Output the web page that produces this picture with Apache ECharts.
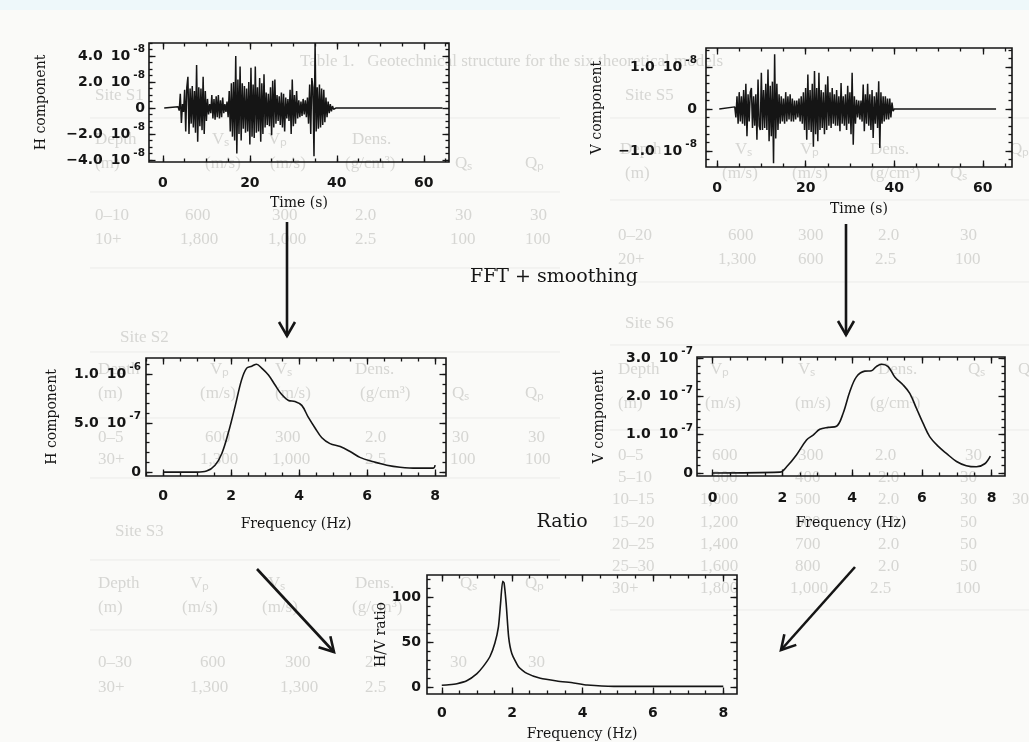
<!DOCTYPE html>
<html>
<head>
<meta charset="utf-8">
<script src="https://cdn.jsdelivr.net/npm/echarts@6/dist/echarts.min.js"></script>
<style>
  html, body { margin: 0; padding: 0; background: #fafaf8; }
  #chart { width: 1029px; height: 742px; }
</style>
</head>
<body>
<div id="chart"></div>
<script>
// ---------------------------------------------------------------
// Recorded ground motion (units of 1e-8), one sample every 0.25 s
// ---------------------------------------------------------------
const hTraceStart = 3.5;
const hTraceStep = 0.25;
const hTraceEnd = 64.3;
const hTrace = [
  0.1, -0.2, 1.1, -1.15, 0.3, -0.3, 1.4, -1.8, 1.6, 2.4,
  -2.0, 1.5, -1.2, 1.7, -1.5, 1.3, -1.9, 3.3, -2.6, 1.6,
  -1.4, 1.5, -1.7, 2.4, -2.0, 1.3, -1.0, 0.7, -0.5, 0.3,
  -0.4, 1.0, -0.8, 0.7, -0.9, 0.9, -0.7, 1.0, -0.8, 0.6,
  -0.7, 0.8, -0.4, 0.3, -0.3, 0.5, -0.7, 1.3, -1.8, 1.9,
  -2.2, 2.0, -2.5, 4.0, -3.5, 2.2, -2.0, 3.2, -2.5, 1.9,
  -1.6, 1.7, -1.9, 1.5, -1.8, 2.0, -2.8, 3.1, -2.2, 1.8,
  -2.3, 3.2, -1.9, 1.6, -1.8, 2.3, -2.6, 1.9, -2.0, 2.6,
  -1.5, 1.2, -1.3, 1.1, -1.4, 1.6, -2.1, 2.1, -1.5, 2.2,
  -1.2, 1.0, -1.0, 0.9, -1.3, 1.2, -1.5, 1.1, -1.8, 0.8,
  -0.8, 0.7, -1.0, 1.4, -2.0, 2.2, -1.4, 1.0, -1.2, 1.3,
  -0.8, 0.6, -0.7, 0.5, -0.6, 0.7, -0.5, 0.6, -0.7, 0.8,
  -1.2, 1.8, -2.0, 2.3, 1.6, -3.7, 5.0, -1.8, 1.6, -1.6,
  1.8, -1.5, 1.5, -1.3, 1.4, -1.1, 0.8, -0.7, 0.5, -0.4,
  0.3, -0.25, 0.15, -0.1, 0.05, 0, 0
];

const vTraceStart = 4.0;
const vTraceStep = 0.25;
const vTraceEnd = 63.0;
const vTrace = [
  0.05, -0.2, 0.3, -0.35, 0.4, -0.3, 0.3, -0.35, 0.45, -0.4,
  0.6, -0.65, 0.35, -0.3, 0.4, 0.5, -0.45, 0.3, -0.4, 0.35,
  -0.73, 0.7, -0.4, -0.5, 0.86, -0.5, 0.45, -0.45, 0.6, -0.5,
  0.94, -0.77, 0.55, -0.65, 0.65, -1.29, 1.3, -0.7, 0.6, -0.5,
  0.35, -0.35, 0.3, -0.3, 0.25, -0.35, 0.4, -0.3, 0.3, -0.25,
  0.35, -0.3, 0.25, -0.3, 0.2, -0.25, 0.2, -0.2, 0.25, -0.3,
  0.3, -0.35, 0.4, -0.5, 0.5, -0.73, 0.82, -0.5, 0.45, -0.55,
  0.6, -0.9, 0.9, -0.6, 0.5, -0.77, 0.86, -0.5, 0.45, -0.45,
  0.4, -0.6, 0.58, -0.5, 0.78, -0.4, 0.4, -0.45, 0.5, -0.35,
  0.35, -0.4, 0.45, -0.4, 0.3, -0.53, 0.62, -0.35, 0.3, -0.4,
  0.35, -0.5, 0.55, -0.35, 0.4, -0.6, 0.86, -0.85, 0.3, -0.35,
  0.22, -0.2, 0.2, -0.25, 0.2, -0.3, 0.58, -0.53, 0.35, -0.35,
  0.6, -0.4, 0.35, -0.5, 0.45, -0.69, 0.3, -0.35, 0.4, -0.45,
  0.66, -0.93, 0.4, -0.35, 0.3, -0.3, 0.3, -0.25, 0.25, -0.25,
  0.25, -0.2, 0.15, -0.05, 0
];

// ---------------------------------------------------------------
// Smoothed amplitude spectra and their ratio
// ---------------------------------------------------------------
const specFreqH = [0, 1.0, 1.28, 1.53, 1.73, 1.92, 2.12, 2.31, 2.46, 2.61, 2.75, 2.90, 3.10, 3.29, 3.49, 3.69, 3.88, 4.08, 4.27, 4.47, 4.67, 4.91, 5.21, 5.50, 5.79, 6.19, 6.58, 6.97, 7.46, 7.95, 8.0];
const specH     = [0, 0, 0.01, 0.07, 0.19, 0.40, 0.67, 0.94, 1.06, 1.08, 1.10, 1.06, 0.99, 0.89, 0.79, 0.73, 0.72, 0.68, 0.56, 0.45, 0.35, 0.29, 0.26, 0.21, 0.15, 0.105, 0.07, 0.05, 0.04, 0.04, 0.07]; // 1e-6

const specFreqV = [0, 1.93, 2.12, 2.40, 2.69, 2.88, 3.07, 3.31, 3.55, 3.74, 3.93, 4.12, 4.36, 4.55, 4.69, 4.84, 5.03, 5.22, 5.46, 5.65, 5.84, 6.03, 6.22, 6.46, 6.70, 6.99, 7.27, 7.56, 7.80, 7.96];
const specV     = [0, 0.02, 0.16, 0.47, 0.86, 0.99, 1.14, 1.19, 1.22, 1.56, 2.12, 2.51, 2.66, 2.67, 2.78, 2.84, 2.78, 2.51, 2.30, 2.08, 1.69, 1.30, 0.95, 0.70, 0.51, 0.30, 0.19, 0.16, 0.24, 0.44]; // 1e-7

const ratioFreq = [0, 0.2, 0.43, 0.71, 1.0, 1.18, 1.37, 1.51, 1.61, 1.67, 1.73, 1.77, 1.83, 1.90, 1.99, 2.18, 2.42, 2.80, 3.27, 3.75, 4.13, 4.89, 5.84, 8.0];
const ratioHV   = [2, 2.5, 3.7, 7, 15, 23, 34, 49, 67, 93, 118, 116, 93, 56, 37.5, 22.7, 15.2, 9.7, 6.7, 4.5, 2.2, 0.7, 0.7, 0.7];

// ---------------------------------------------------------------
// Tick values and tick labels (mantissa | power of ten | exponent)
// ---------------------------------------------------------------
const timeTicks = [0, 20, 40, 60];
const freqTicks = [0, 2, 4, 6, 8];
const hTraceTicks = [-4, -2, 0, 2, 4];
const hTraceLabels = ['\u22124.0|10|-8', '\u22122.0|10|-8', '0', '2.0|10|-8', '4.0|10|-8'];
const vTraceTicks = [-1, 0, 1];
const vTraceLabels = ['\u22121.0|10|-8', '0', '1.0|10|-8'];
const hSpecTicks = [0, 0.5, 1.0];
const hSpecLabels = ['0', '5.0|10|-7', '1.0|10|-6'];
const vSpecTicks = [0, 1, 2, 3];
const vSpecLabels = ['0', '1.0|10|-7', '2.0|10|-7', '3.0|10|-7'];
const ratioTicks = [0, 50, 100];
const ratioLabels = ['0', '50', '100'];

// ---------------------------------------------------------------
const ink = '#151515';
const tickFont = 'DejaVu Sans';
const nameFont = 'DejaVu Serif';

function steps(a, b, s) {
  const out = [];
  for (let k = Math.ceil(a / s - 1e-9); k * s <= b + 1e-9; k++) out.push(+(k * s).toFixed(4));
  return out;
}
function richLabel(t) {
  const p = t.split('|');
  return p.length > 1 ? '{m|' + p[0] + '}{t|' + p[1] + '}{e|' + p[2] + '}' : '{m|' + p[0] + '}';
}

const grids = [], xAxes = [], yAxes = [], series = [];

function axis(gi, pos, range, ticks, len, extra) {
  return Object.assign({
    type: 'value', gridIndex: gi, position: pos, min: range[0], max: range[1],
    axisLine: { show: false, onZero: false },
    axisTick: { show: true, inside: true, length: len, customValues: ticks, lineStyle: { color: ink, width: 1.3 } },
    axisLabel: { show: false },
    splitLine: { show: false }
  }, extra || {});
}

function addPanel(p) {
  const gi = grids.length;
  grids.push({ left: p.box[0], top: p.box[1], width: p.box[2], height: p.box[3], show: true,
    borderColor: ink, borderWidth: 1.6, backgroundColor: 'transparent' });
  const xi = xAxes.length, yi = yAxes.length;
  const xMinor = steps(p.xRange[0], p.xRange[1], p.xStep);
  const yMinor = steps(p.yRange[0], p.yRange[1], p.yStep);
  const nameStyle = { fontFamily: nameFont, fontSize: 14, color: ink };
  const digits = { fontFamily: tickFont, fontWeight: 'bold', fontSize: 14, color: ink, lineHeight: 24 };
  xAxes.push(axis(gi, 'bottom', p.xRange, p.xTicks, 6.5, {
    axisLabel: { show: true, customValues: p.xTicks, margin: p.xMargin, formatter: v => String(v),
      fontFamily: tickFont, fontWeight: 'bold', fontSize: 14, color: ink },
    name: p.xName, nameLocation: 'middle', nameGap: p.xNameGap, nameTextStyle: nameStyle
  }));
  xAxes.push(axis(gi, 'bottom', p.xRange, xMinor, 3.5));
  xAxes.push(axis(gi, 'top', p.xRange, p.xTicks, 6.5));
  xAxes.push(axis(gi, 'top', p.xRange, xMinor, 3.5));
  yAxes.push(axis(gi, 'left', p.yRange, p.yTicks, 6.5, {
    axisLabel: { show: true, customValues: p.yTicks, margin: p.yMargin,
      formatter: v => richLabel(p.yLabels[p.yTicks.findIndex(t => Math.abs(t - v) < 1e-9)]),
      rich: {
        m: digits,
        t: Object.assign({}, digits, { padding: [0, 0, 0, 8] }),
        e: { fontFamily: tickFont, fontWeight: 'bold', fontSize: 10.5, color: ink, lineHeight: 11, verticalAlign: 'top', padding: [0, 0, 0, 3] }
      } },
    name: p.yName, nameLocation: 'middle', nameGap: p.yNameGap, nameTextStyle: nameStyle
  }));
  yAxes.push(axis(gi, 'left', p.yRange, yMinor, 3.5));
  yAxes.push(axis(gi, 'right', p.yRange, p.yTicks, 6.5));
  yAxes.push(axis(gi, 'right', p.yRange, yMinor, 3.5));
  return { xi, yi };
}

function lineSeries(ax, data, width, smooth) {
  return { type: 'line', xAxisIndex: ax.xi, yAxisIndex: ax.yi, data, showSymbol: false, symbol: 'none',
    smooth: smooth || false, silent: true, lineStyle: { color: ink, width } };
}

// H record
const pH = addPanel({ box: [149, 43, 300, 119], xRange: [-3.2, 65.8], yRange: [-4.15, 5.0],
  xTicks: timeTicks, xStep: 5, yTicks: hTraceTicks, yLabels: hTraceLabels, yStep: 0.5,
  xMargin: 14, yMargin: 4, xName: 'Time (s)', xNameGap: 34, yName: 'H component', yNameGap: 101 });
series.push(lineSeries(pH, [[0.3, 0]].concat(hTrace.map((v, i) => [hTraceStart + i * hTraceStep, v]), [[hTraceEnd, 0]]), 1.5));

// V record
const pV = addPanel({ box: [706, 48, 306, 119], xRange: [-2.5, 66.6], yRange: [-1.38, 1.45],
  xTicks: timeTicks, xStep: 5, yTicks: vTraceTicks, yLabels: vTraceLabels, yStep: 0.2,
  xMargin: 14, yMargin: 9, xName: 'Time (s)', xNameGap: 35, yName: 'V component', yNameGap: 102 });
series.push(lineSeries(pV, [[0.5, 0]].concat(vTrace.map((v, i) => [vTraceStart + i * vTraceStep, v]), [[vTraceEnd, 0]]), 1.5));

// H spectrum
const pHS = addPanel({ box: [146, 358, 300, 118], xRange: [-0.5, 8.32], yRange: [-0.04, 1.163],
  xTicks: freqTicks, xStep: 0.5, yTicks: hSpecTicks, yLabels: hSpecLabels, yStep: 0.1,
  xMargin: 13, yMargin: 5, xName: 'Frequency (Hz)', xNameGap: 41, yName: 'H component', yNameGap: 87 });
series.push(lineSeries(pHS, specFreqH.map((f, i) => [f, specH[i]]), 1.6, 0.35));

// V spectrum
const pVS = addPanel({ box: [697, 357, 308, 119], xRange: [-0.45, 8.38], yRange: [-0.08, 3.03],
  xTicks: freqTicks, xStep: 0.5, yTicks: vSpecTicks, yLabels: vSpecLabels, yStep: 0.2,
  xMargin: 15, yMargin: 4, xName: 'Frequency (Hz)', xNameGap: 40, yName: 'V component', yNameGap: 91 });
series.push(lineSeries(pVS, specFreqV.map((f, i) => [f, specV[i]]), 1.6, 0.35));

// H/V ratio
const pR = addPanel({ box: [427, 575, 310, 119], xRange: [-0.42, 8.39], yRange: [-7.8, 124.9],
  xTicks: freqTicks, xStep: 0.5, yTicks: ratioTicks, yLabels: ratioLabels, yStep: 10,
  xMargin: 12, yMargin: 6, xName: 'Frequency (Hz)', xNameGap: 33, yName: 'H/V ratio', yNameGap: 31 });
series.push(lineSeries(pR, ratioFreq.map((f, i) => [f, ratioHV[i]]), 1.6, 0.2));

// ---------------------------------------------------------------
// Page furniture: faint table printed on the sheet, arrows, captions
// ---------------------------------------------------------------
const sheetRows = [
  [300, 62, 'Table 1.   Geotechnical structure for the six theoretical models'],
  [95, 96, 'Site S1'], [625, 96, 'Site S5'],
  [95, 140, 'Depth'], [212, 140, 'V\u209b'], [268, 140, 'V\u209a'], [352, 140, 'Dens.'],
  [95, 164, '(m)'], [205, 164, '(m/s)'], [270, 164, '(m/s)'], [345, 164, '(g/cm\u00b3)'], [455, 164, 'Q\u209b'], [525, 164, 'Q\u209a'],
  [95, 216, '0\u201310'], [185, 216, '600'], [272, 216, '300'], [355, 216, '2.0'], [455, 216, '30'], [530, 216, '30'],
  [95, 240, '10+'], [180, 240, '1,800'], [268, 240, '1,000'], [355, 240, '2.5'], [450, 240, '100'], [525, 240, '100'],
  [620, 150, 'Depth'], [735, 150, 'V\u209b'], [800, 150, 'V\u209a'], [870, 150, 'Dens.'], [1010, 150, 'Q\u209a'],
  [625, 174, '(m)'], [722, 174, '(m/s)'], [792, 174, '(m/s)'], [870, 174, '(g/cm\u00b3)'], [950, 174, 'Q\u209b'],
  [618, 236, '0\u201320'], [728, 236, '600'], [798, 236, '300'], [878, 236, '2.0'], [960, 236, '30'],
  [618, 260, '20+'], [718, 260, '1,300'], [798, 260, '600'], [875, 260, '2.5'], [955, 260, '100'],
  [120, 338, 'Site S2'], [625, 324, 'Site S6'],
  [98, 370, 'Depth'], [210, 370, 'V\u209a'], [275, 370, 'V\u209b'], [355, 370, 'Dens.'],
  [98, 394, '(m)'], [200, 394, '(m/s)'], [275, 394, '(m/s)'], [360, 394, '(g/cm\u00b3)'], [452, 394, 'Q\u209b'], [525, 394, 'Q\u209a'],
  [98, 438, '0\u20135'], [205, 438, '600'], [275, 438, '300'], [365, 438, '2.0'], [452, 438, '30'], [528, 438, '30'],
  [98, 460, '30+'], [200, 460, '1,300'], [272, 460, '1,000'], [365, 460, '2.5'], [450, 460, '100'], [525, 460, '100'],
  [618, 370, 'Depth'], [710, 370, 'V\u209a'], [798, 370, 'V\u209b'], [878, 370, 'Dens.'], [968, 370, 'Q\u209b'], [1018, 370, 'Q\u209a'],
  [618, 404, '(m)'], [705, 404, '(m/s)'], [795, 404, '(m/s)'], [870, 404, '(g/cm\u00b3)'],
  [618, 456, '0\u20135'], [712, 456, '600'], [798, 456, '300'], [875, 456, '2.0'], [965, 456, '30'],
  [618, 478, '5\u201310'], [712, 478, '800'], [795, 478, '400'], [878, 478, '2.0'], [960, 478, '30'],
  [612, 500, '10\u201315'], [700, 500, '1,000'], [795, 500, '500'], [878, 500, '2.0'], [960, 500, '30'], [1012, 500, '30'],
  [612, 523, '15\u201320'], [700, 523, '1,200'], [795, 523, '600'], [878, 523, '2.0'], [960, 523, '50'],
  [612, 545, '20\u201325'], [700, 545, '1,400'], [795, 545, '700'], [878, 545, '2.0'], [960, 545, '50'],
  [612, 567, '25\u201330'], [700, 567, '1,600'], [795, 567, '800'], [878, 567, '2.0'], [960, 567, '50'],
  [612, 589, '30+'], [700, 589, '1,800'], [790, 589, '1,000'], [870, 589, '2.5'], [955, 589, '100'],
  [115, 532, 'Site S3'],
  [98, 584, 'Depth'], [190, 584, 'V\u209a'], [268, 584, 'V\u209b'], [355, 584, 'Dens.'], [460, 584, 'Q\u209b'], [525, 584, 'Q\u209a'],
  [98, 608, '(m)'], [182, 608, '(m/s)'], [262, 608, '(m/s)'], [352, 608, '(g/cm\u00b3)'],
  [98, 663, '0\u201330'], [200, 663, '600'], [285, 663, '300'], [365, 663, '2.0'], [450, 663, '30'], [528, 663, '30'],
  [98, 688, '30+'], [190, 688, '1,300'], [280, 688, '1,300'], [365, 688, '2.5']
];
const sheetRules = [[90, 118, 560], [90, 192, 560], [90, 268, 560], [610, 118, 1029], [610, 200, 1029], [610, 282, 1029],
  [90, 352, 560], [90, 418, 560], [90, 478, 560], [610, 345, 1029], [610, 430, 1029], [90, 560, 560], [90, 630, 560], [610, 610, 1029]];

const graphics = [
  { type: 'rect', z: -20, shape: { x: 0, y: 0, width: 1029, height: 10 }, style: { fill: '#eef8fa' } }
];
sheetRules.forEach(r => graphics.push({ type: 'line', z: -10, silent: true,
  shape: { x1: r[0], y1: r[1], x2: r[2], y2: r[1] }, style: { stroke: '#ebebe9', lineWidth: 1 } }));
sheetRows.forEach(r => graphics.push({ type: 'text', z: -10, silent: true, x: r[0], y: r[1],
  style: { text: r[2], fill: '#d6d6d3', font: '17px "Liberation Serif"', textVerticalAlign: 'middle' } }));

function arrow(x1, y1, x2, y2) {
  const dx = x2 - x1, dy = y2 - y1, L = Math.hypot(dx, dy);
  const ux = dx / L, uy = dy / L, hl = 14, hw = 8;
  const bx = x2 - ux * hl, by = y2 - uy * hl;
  graphics.push({ type: 'polyline', z: 5, silent: true, shape: { points: [[x1, y1], [x2, y2]] },
    style: { stroke: ink, lineWidth: 2.6, fill: null } });
  graphics.push({ type: 'polyline', z: 5, silent: true,
    shape: { points: [[bx - uy * hw, by + ux * hw], [x2, y2], [bx + uy * hw, by - ux * hw]] },
    style: { stroke: ink, lineWidth: 2.6, fill: null, lineJoin: 'miter' } });
}
arrow(287, 222, 287, 336);
arrow(846, 224, 846, 335);
arrow(257, 569, 334, 652);
arrow(855, 567, 781, 650);

graphics.push({ type: 'text', z: 5, x: 554, y: 277, style: { text: 'FFT + smoothing', fill: ink,
  font: '19px "DejaVu Serif"', textAlign: 'center', textVerticalAlign: 'middle' } });
graphics.push({ type: 'text', z: 5, x: 562, y: 522, style: { text: 'Ratio', fill: ink,
  font: '19px "DejaVu Serif"', textAlign: 'center', textVerticalAlign: 'middle' } });

const chart = echarts.init(document.getElementById('chart'), null, { renderer: 'canvas' });
chart.setOption({
  backgroundColor: '#fafaf8',
  animation: false,
  grid: grids,
  xAxis: xAxes,
  yAxis: yAxes,
  series: series,
  graphic: { elements: graphics }
});
</script>
</body>
</html>
